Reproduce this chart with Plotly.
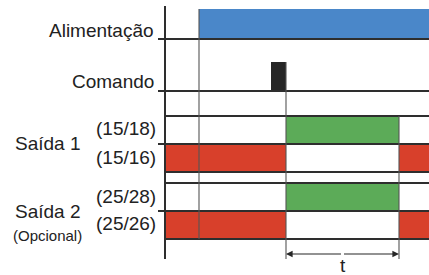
import plotly.graph_objects as go

# ---------------- data ----------------
signals = ["Alimentação", "Comando", "Saída 1", "Saída 2"]
sub_label = "(Opcional)"
contacts = ["(15/18)", "(15/16)", "(25/28)", "(25/26)"]
time_label = "t"

power_on = 34          # time when supply is switched on
command_on = 106       # command pulse start
command_off = 121      # command pulse end (output switches)
t_delay = 113          # duration t of the output
time_end = 264         # end of visible timeline

alim_intervals = [(power_on, time_end)]
cmd_intervals = [(command_on, command_off)]
na_intervals = [(command_off, command_off + t_delay)]                 # (15/18), (25/28)
nf_intervals = [(0, command_off), (command_off + t_delay, time_end)]  # (15/16), (25/26)

# ---------------- layout / styles ----------------
W, H = 429, 275
X0 = -165
rows = {  # (top, bottom) in y-axis units (reversed axis)
    "alim": (9, 39),
    "cmd": (62, 91),
    "c1818": (116, 144),
    "c1516": (144, 172),
    "c2528": (183, 211),
    "c2526": (211, 239),
}
BLUE = "#4a87c9"
GREEN = "#5cab58"
RED = "#d8402b"
BLACK = "#262626"
LINE = "#2e2e2e"
VLINE = "#555555"
FONT = "Liberation Sans, Arial, sans-serif"
TXT = "#222222"

fig = go.Figure()


def add_bars(intervals, row, color):
    top, bot = rows[row]
    fig.add_trace(go.Bar(
        orientation="h",
        base=[a for a, b in intervals],
        x=[b - a for a, b in intervals],
        y=[(top + bot) / 2] * len(intervals),
        width=[bot - top] * len(intervals),
        marker=dict(color=color, line=dict(width=0)),
        showlegend=False, hoverinfo="skip"))


add_bars(alim_intervals, "alim", BLUE)
add_bars(cmd_intervals, "cmd", BLACK)
add_bars(na_intervals, "c1818", GREEN)
add_bars(nf_intervals, "c1516", RED)
add_bars(na_intervals, "c2528", GREEN)
add_bars(nf_intervals, "c2526", RED)

# horizontal baselines
tick_left = -7
hl = [(rows["alim"][1], tick_left), (rows["cmd"][1], tick_left),
      (rows["c1818"][0], 0), (rows["c1818"][1], tick_left),
      (rows["c1516"][1], 0), (rows["c2528"][0], 0),
      (rows["c2528"][1], tick_left), (rows["c2526"][1], 0)]
xs, ys = [], []
for y, x0 in hl:
    xs += [x0, time_end, None]
    ys += [y, y, None]
fig.add_trace(go.Scatter(x=xs, y=ys, mode="lines",
                         line=dict(color=LINE, width=2),
                         showlegend=False, hoverinfo="skip"))

# vertical event lines
arrow_y = 254
vx = [power_on, power_on, None, command_off, command_off, None,
      command_off + t_delay, command_off + t_delay, None]
vy = [rows["alim"][0], rows["c2526"][1], None, rows["cmd"][0], arrow_y + 5, None,
      rows["c1818"][0], arrow_y + 5, None]
fig.add_trace(go.Scatter(x=vx, y=vy, mode="lines",
                         line=dict(color=VLINE, width=1.1),
                         showlegend=False, hoverinfo="skip"))

# time axis (left vertical)
fig.add_trace(go.Scatter(x=[0, 0], y=[6, 259], mode="lines",
                         line=dict(color=LINE, width=2),
                         showlegend=False, hoverinfo="skip"))

ann = []
mid = command_off + t_delay / 2
for tip in (command_off, command_off + t_delay):
    ann.append(dict(x=tip, y=arrow_y, ax=mid, ay=arrow_y, xref="x", yref="y",
                    axref="x", ayref="y", text="", showarrow=True,
                    arrowhead=2, arrowsize=1.1, arrowwidth=1.2,
                    arrowcolor=BLACK, standoff=0, startstandoff=0))

tf = dict(family=FONT, size=19, color=TXT)
ann.append(dict(x=mid, y=265, text=time_label, showarrow=False, font=tf,
                xanchor="center", yanchor="middle"))

lab_x = -9
ann.append(dict(x=lab_x, y=30, text=signals[0], showarrow=False, font=tf,
                xanchor="right", yanchor="middle"))
ann.append(dict(x=lab_x, y=81, text=signals[1], showarrow=False, font=tf,
                xanchor="right", yanchor="middle"))
for lbl, y in zip(contacts, [128, 157, 196, 223]):
    ann.append(dict(x=-7, y=y, text=lbl, showarrow=False, font=tf,
                    xanchor="right", yanchor="middle"))
ann.append(dict(x=-117, y=143, text=signals[2], showarrow=False, font=tf,
                xanchor="center", yanchor="middle"))
ann.append(dict(x=-117, y=211, text=signals[3], showarrow=False, font=tf,
                xanchor="center", yanchor="middle"))
ann.append(dict(x=-118, y=235, text=sub_label, showarrow=False,
                font=dict(family=FONT, size=15, color=TXT),
                xanchor="center", yanchor="middle"))

fig.update_layout(
    width=W, height=H, margin=dict(l=0, r=0, t=0, b=0),
    paper_bgcolor="white", plot_bgcolor="white",
    barmode="overlay", bargap=0,
    xaxis=dict(range=[X0, X0 + W], visible=False, fixedrange=True),
    yaxis=dict(range=[H, 0], visible=False, fixedrange=True),
    annotations=ann, showlegend=False,
)

fig.write_html("out.html", config={"displayModeBar": False},
               post_script="document.body.style.margin='0';document.body.style.overflow='hidden';")
